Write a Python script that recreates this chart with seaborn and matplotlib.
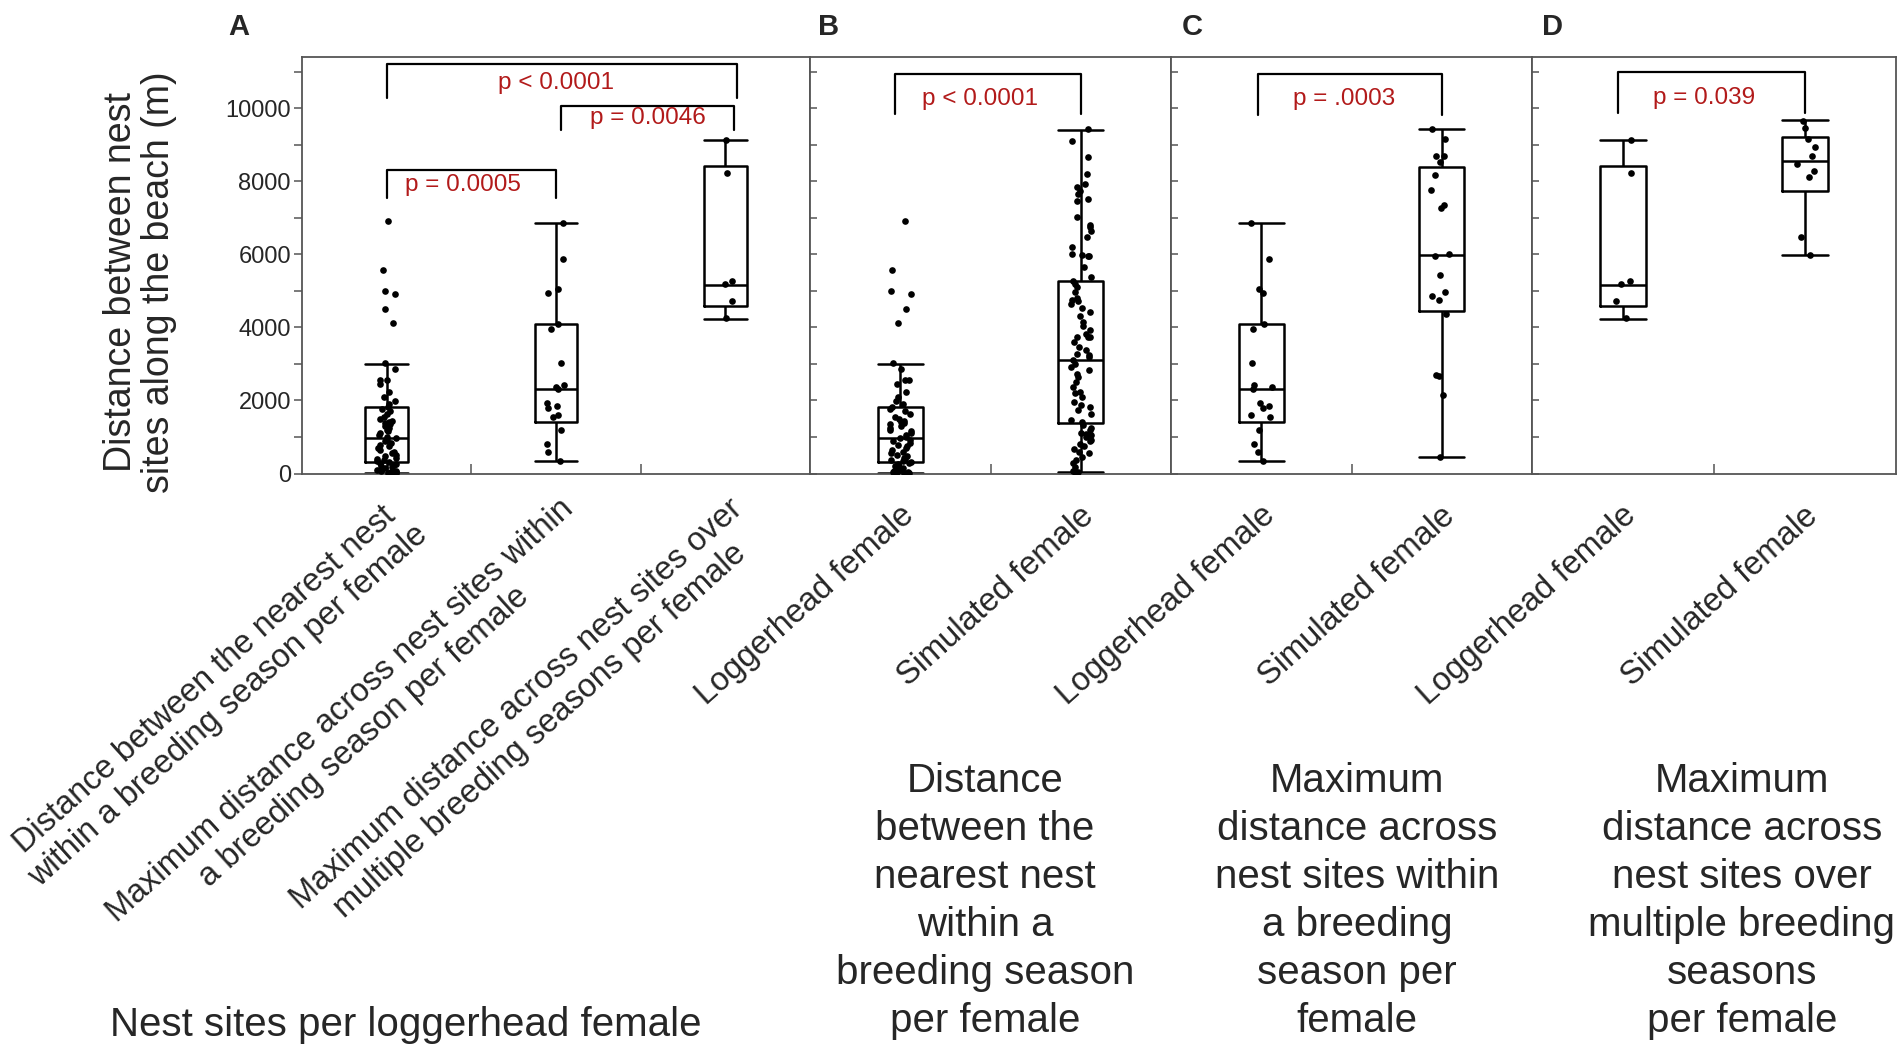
import numpy as np
import pandas as pd
import seaborn as sns
import matplotlib.pyplot as plt
from matplotlib.ticker import MultipleLocator

sns.set_style('white')
plt.rcParams['font.family'] = ['Liberation Sans', 'DejaVu Sans']

# nest distances (m) per female
nearest_logger = [20, 25, 30, 40, 50, 60, 80, 100, 120, 150, 170, 200, 220, 250, 280, 310,
                  330, 360, 400, 430, 480, 520, 560, 600, 650, 700, 740, 780, 830, 880, 930, 980,
                  1010, 1060, 1100, 1150, 1200, 1250, 1300, 1350, 1390, 1420, 1450, 1500, 1560,
                  1620, 1700, 1760, 1810, 1910, 1980, 2100, 2230, 2460, 2550, 2560, 2870, 3020,
                  4130, 4510, 4900, 5000, 5560, 6900]
within_logger = [6870, 5870, 5040, 4930, 4100, 3950, 3020, 2430, 2360, 2320, 1930, 1860,
                 1800, 1600, 1540, 1180, 800, 590, 330]
multi_logger = [9120, 8220, 5270, 5190, 4730, 4250]
nearest_sim = [9420, 9110, 8650, 8200, 7920, 7830, 7740, 7650, 7510, 7470, 7010, 6790, 6740,
               6650, 6470, 6190, 6010, 5970, 5960, 5940, 5650, 5370, 5280, 5190, 5100, 4960,
               4800, 4740, 4730, 4650, 4530, 4420, 4300, 4140, 4030, 3920, 3830, 3740, 3730,
               3730, 3600, 3460, 3370, 3280, 3230, 3190, 3120, 3010, 2920, 2820, 2730, 2640,
               2500, 2370, 2230, 2190, 2100, 1960, 1880, 1820, 1730, 1640, 1460, 1410, 1320,
               1250, 1180, 1120, 1090, 1050, 990, 910, 900, 820, 760, 680, 600, 550, 460, 360,
               290, 170, 60, 50, 40]
within_sim = [9430, 9150, 8700, 8690, 8520, 8180, 7760, 7350, 7270, 6010, 5960, 5440, 4960,
              4870, 4760, 4370, 2690, 2680, 2140, 460]
multi_sim = [9650, 9450, 9150, 8930, 8700, 8470, 8290, 8110, 6480, 5980]

# box summaries: lower whisker, Q1, median, Q3, upper whisker
nearest_logger_box = [20, 320, 980, 1810, 3000]
within_logger_box = [330, 1410, 2320, 4100, 6870]
multi_logger_box = [4230, 4590, 5160, 8430, 9130]
nearest_sim_box = [45, 1370, 3120, 5260, 9390]
within_sim_box = [440, 4460, 5990, 8380, 9430]
multi_sim_box = [5970, 7720, 8560, 9200, 9670]

labels_a = ['Distance between the nearest nest\nwithin a breeding season per female',
            'Maximum distance across nest sites within\na breeding season per female',
            'Maximum distance across nest sites over\nmultiple breeding seasons per female']
labels_sim = ['Loggerhead female', 'Simulated female']

# significance brackets: (x1, x2, top, leg bottom, text x, text y, text)
brackets_a = [(0, 2.07, 11210, 10280, 1.0, 10700, 'p < 0.0001'),
              (1.03, 2.05, 10060, 9400, 1.54, 9730, 'p = 0.0046'),
              (0, 1.0, 8310, 7540, 0.45, 7900, 'p = 0.0005')]
brackets_b = [(-0.03, 1.0, 10940, 9850, 0.44, 10250, 'p < 0.0001')]
brackets_c = [(-0.02, 1.0, 10940, 9820, 0.46, 10250, 'p = .0003')]
brackets_d = [(-0.03, 1.0, 11000, 9860, 0.445, 10270, 'p = 0.039')]

red = '#b21a1a'
frame = '#555555'

fig = plt.figure(figsize=(19.04, 10.54), dpi=100)
W, H = 1904, 1054
top_px, bot_px = 57, 473.5
panel_px = [(302, 810), (810, 1171), (1171, 1532), (1532, 1896)]
axes = [fig.add_axes([l / W, 1 - bot_px / H, (r - l) / W, (bot_px - top_px) / H])
        for l, r in panel_px]

np.random.seed(4)

panels = [
    (axes[0], labels_a, [nearest_logger, within_logger, multi_logger],
     [nearest_logger_box, within_logger_box, multi_logger_box], brackets_a, 'A'),
    (axes[1], labels_sim, [nearest_logger, nearest_sim],
     [nearest_logger_box, nearest_sim_box], brackets_b, 'B'),
    (axes[2], labels_sim, [within_logger, within_sim],
     [within_logger_box, within_sim_box], brackets_c, 'C'),
    (axes[3], labels_sim, [multi_logger, multi_sim],
     [multi_logger_box, multi_sim_box], brackets_d, 'D'),
]

for ax, labels, pts, boxes, brackets, letter in panels:
    keys = [f'g{i}' for i in range(len(labels))]
    box_df = pd.DataFrame({'group': np.repeat(keys, 5), 'value': np.concatenate(boxes)})
    pts_df = pd.DataFrame({'group': np.concatenate([[k] * len(p) for k, p in zip(keys, pts)]),
                           'value': np.concatenate(pts)})
    sns.boxplot(data=box_df, x='group', y='value', order=keys, width=0.25, fill=False,
                color='black', linewidth=1.8, whis=1.5, showfliers=False,
                capwidths=0.25, ax=ax)
    sns.stripplot(data=pts_df, x='group', y='value', order=keys, color='black', size=4.8,
                  jitter=0.06, ax=ax, zorder=4)

    n = len(labels)
    ax.set_xlim(-0.5, n - 0.5)
    ax.set_ylim(0, 11400)
    ax.set_xlabel('')
    ax.set_ylabel('')
    ax.set_xticks(range(n))
    ax.set_xticklabels([''] * n)
    # rotated category labels, anchored a little right of and below each category
    dx, dy = (18, -32) if letter == 'A' else (6.5, -27.5)
    for i, lab in enumerate(labels):
        ax.annotate(lab, xy=(i, 0), xycoords=('data', 'axes fraction'),
                    xytext=(dx, dy), textcoords='offset points', rotation=42,
                    ha='right', va='center', rotation_mode='anchor', fontsize=23.5,
                    linespacing=1.18, multialignment='center', annotation_clip=False)
    ax.set_xticks([i + 0.5 for i in range(n - 1)], minor=True)
    ax.tick_params(axis='x', which='major', length=0)
    ax.tick_params(axis='x', which='minor', direction='in', length=7, width=1.1,
                   color=frame, bottom=True)

    ax.set_yticks(range(0, 10001, 2000))
    ax.yaxis.set_minor_locator(MultipleLocator(1000))
    if letter == 'A':
        ax.tick_params(axis='y', which='both', direction='out', length=6, width=1.1,
                       color=frame, labelsize=17, pad=2, left=True)
    else:
        ax.tick_params(axis='y', which='both', direction='in', length=5, width=1.1,
                       color=frame, labelleft=False, left=True)

    for sp in ax.spines.values():
        sp.set_color(frame)
        sp.set_linewidth(1.3)

    for x1, x2, ytop, yleg, tx, ty, txt in brackets:
        ax.plot([x1, x1, x2, x2], [yleg, ytop, ytop, yleg], color='black', lw=1.6,
                clip_on=False)
        ax.text(tx, ty, txt, color=red, fontsize=17.5, ha='center', va='center')

# panel letters
for letter, xpx in zip('ABCD', [239, 829, 1192, 1553]):
    fig.text(xpx / W, 1 - 27 / H, letter, fontsize=21, fontweight='bold',
             ha='center', va='center')

fig.text(140 / W, 1 - 282 / H, 'Distance between nest\nsites along the beach (m)',
         rotation=90, fontsize=27, ha='center', va='center', multialignment='center',
         linespacing=1.05)

fig.text(406 / W, 1 - 1025 / H, 'Nest sites per loggerhead female', fontsize=29,
         ha='center', va='center')
bottom_titles = [
    (985, 'Distance\nbetween the\nnearest nest\nwithin a\nbreeding season\nper female'),
    (1357, 'Maximum\ndistance across\nnest sites within\na breeding\nseason per\nfemale'),
    (1742, 'Maximum\ndistance across\nnest sites over\nmultiple breeding\nseasons\nper female'),
]
for xpx, txt in bottom_titles:
    fig.text(xpx / W, 1 - 901 / H, txt, fontsize=29, ha='center', va='center',
             multialignment='center', linespacing=1.34)

fig.savefig('out.png', dpi=100)
